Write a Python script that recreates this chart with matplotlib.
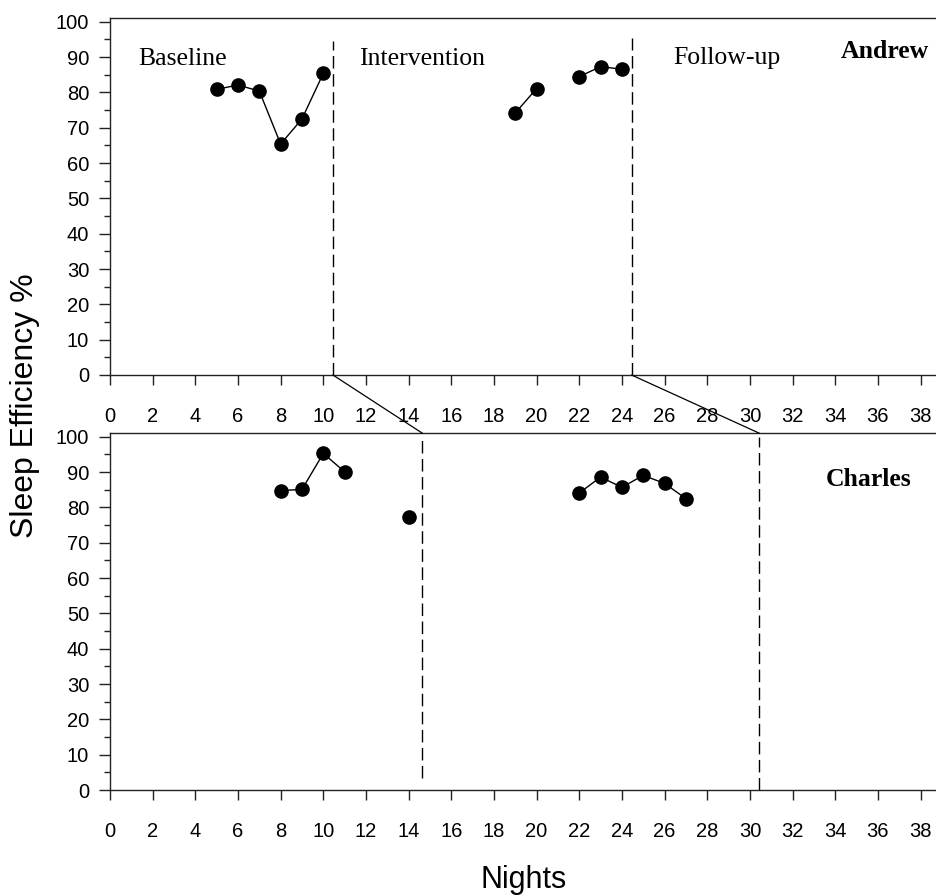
import matplotlib
matplotlib.use("Agg")
import matplotlib.pyplot as plt
from matplotlib.patches import ConnectionPatch

# Andrew data (segments)
andrew_base_x = [5, 6, 7, 8, 9, 10]
andrew_base_y = [80.9, 82.1, 80.4, 65.4, 72.5, 85.4]
andrew_int1_x = [19, 20]
andrew_int1_y = [74.2, 81.1]
andrew_int2_x = [22, 23, 24]
andrew_int2_y = [84.5, 87.3, 86.6]

# Charles data (segments)
charles_base1_x = [8, 9, 10, 11]
charles_base1_y = [84.8, 85.1, 95.3, 90.1]
charles_base2_x = [14]
charles_base2_y = [77.2]
charles_int_x = [22, 23, 24, 25, 26, 27]
charles_int_y = [84.1, 88.6, 85.7, 89.1, 86.8, 82.5]

# phase change lines
andrew_phase = [10.45, 24.45]
charles_phase = [14.65, 30.45]

x_ticks = list(range(0, 39, 2))
y_ticks = list(range(0, 101, 10))

W, H = 937, 896
fig = plt.figure(figsize=(W / 100, H / 100), dpi=100)
plt.rcParams['font.family'] = ['Liberation Sans', 'DejaVu Sans']

left = 110 / W
width = (937 - 110) / W + 0.01
ax1 = fig.add_axes([left, 1 - 375 / H, width, (375 - 18.3) / H])
ax2 = fig.add_axes([left, 1 - 790 / H, width, (790 - 433.3) / H])

xmax = (937 - 110 + 0.01 * W) / 21.33

for ax in (ax1, ax2):
    ax.set_xlim(0, xmax)
    ax.set_ylim(0, 101)
    ax.spines['right'].set_visible(False)
    for s in ('left', 'bottom', 'top'):
        ax.spines[s].set_linewidth(1.0)
        ax.spines[s].set_color('#222222')
    ax.set_xticks(x_ticks)
    ax.set_yticks(y_ticks)
    ax.set_yticks(list(range(5, 100, 10)), minor=True)
    ax.tick_params(axis='x', which='major', direction='out', length=7, width=1,
                   pad=16, labelsize=14.5, color='#222222')
    ax.tick_params(axis='y', which='major', direction='out', length=8, width=1,
                   pad=7, labelsize=14.5, color='#222222')
    ax.tick_params(axis='y', which='minor', direction='out', length=4, width=1,
                   color='#222222')

mk = dict(color='black', marker='o', markersize=9.5, linewidth=1.0)
ax1.plot(andrew_base_x, andrew_base_y, **mk)
ax1.plot(andrew_int1_x, andrew_int1_y, **mk)
ax1.plot(andrew_int2_x, andrew_int2_y, **mk)
ax2.plot(charles_base1_x, charles_base1_y, **mk)
ax2.plot(charles_base2_x, charles_base2_y, **mk)
ax2.plot(charles_int_x, charles_int_y, **mk)

dash = dict(color='black', linewidth=1.0, linestyle=(0, (9, 4)))
ax1.plot([andrew_phase[0]] * 2, [0, 94.5], **dash)
ax1.plot([andrew_phase[1]] * 2, [0, 95.5], **dash)
ax2.plot([charles_phase[0]] * 2, [3.4, 100], **dash)
ax2.plot([charles_phase[1]] * 2, [0, 100], **dash)

for a, b in zip(andrew_phase, charles_phase):
    con = ConnectionPatch(xyA=(a, 0), coordsA=ax1.transData,
                          xyB=(b, 101), coordsB=ax2.transData,
                          color='black', linewidth=0.9)
    fig.add_artist(con)

serif = ['Liberation Serif', 'DejaVu Serif']
ax1.text(1.31, 87.7, 'Baseline', family=serif, fontsize=18.5, va='baseline')
ax1.text(11.67, 87.7, 'Intervention', family=serif, fontsize=18.5, va='baseline')
ax1.text(26.4, 88.2, 'Follow-up', family=serif, fontsize=18.5, va='baseline')
ax1.text(34.27, 89.9, 'Andrew', family=serif, fontsize=18.5, fontweight='bold', va='baseline')
ax2.text(33.57, 86.2, 'Charles', family=serif, fontsize=18.5, fontweight='bold', va='baseline')

fig.text(25.5 / W, 1 - 406 / H, 'Sleep Efficiency %', rotation=90,
         fontsize=23, ha='center', va='center')
fig.text(524 / W, 1 - 880 / H, 'Nights', fontsize=22, ha='center', va='center')

fig.savefig('out.png', dpi=100)
